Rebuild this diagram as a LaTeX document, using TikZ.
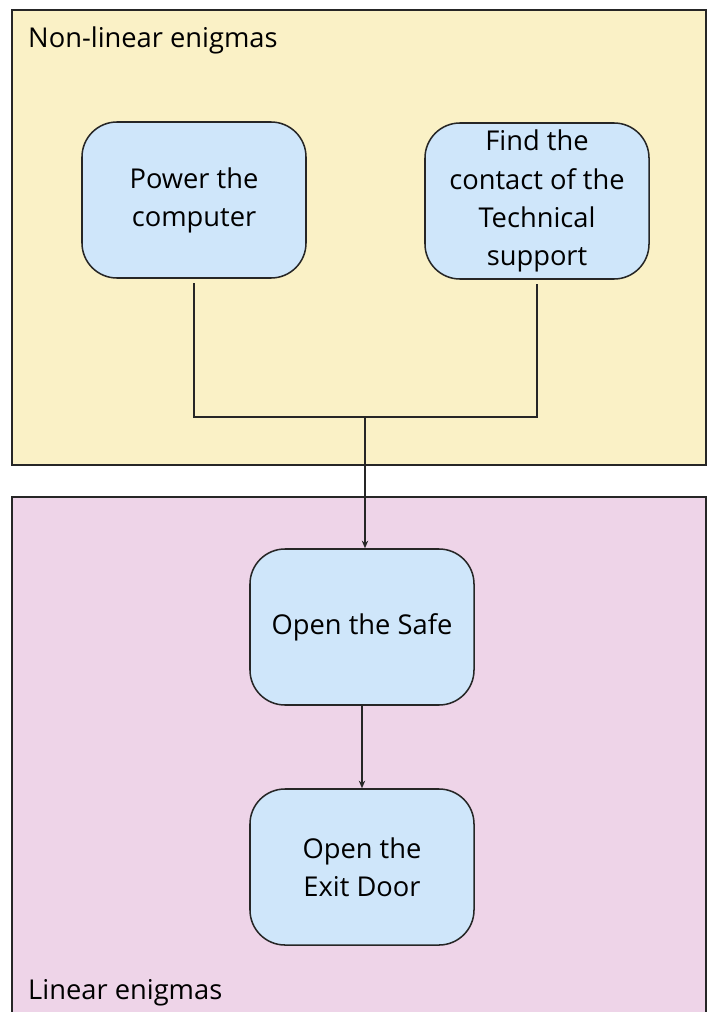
\documentclass[tikz,border=0pt]{standalone}
\usepackage{fontspec}
\setmainfont{Open Sans}
\usetikzlibrary{arrows.meta,positioning}
\definecolor{paleyellow}{HTML}{FAF1C6}
\definecolor{palepink}{HTML}{EED4E8}
\definecolor{paleblue}{HTML}{CFE6FA}
\begin{document}
\begin{tikzpicture}[x=0.03cm,y=-0.03cm,
  panel/.style={draw=black!85,line width=1.1pt},
  enigma/.style={draw=black!85,fill=paleblue,line width=1.3pt,rounded corners=1.05cm,
    minimum width=6.72cm,minimum height=4.68cm,align=center,
    font=\fontsize{23.3}{32.5}\selectfont},
  link/.style={draw=black!85,line width=1pt},
  tag/.style={anchor=base west,inner sep=0pt,font=\fontsize{23.3}{32.5}\selectfont}]
\useasboundingbox (0,0) rectangle (707,1012);
\clip (0,0) rectangle (707,1012);
% panels
\draw[panel,fill=paleyellow] (12,10) rectangle (706,465);
\draw[panel,fill=palepink] (12,497) rectangle (706,1030);
\node[tag] (nonlin) at (28,48) {Non-linear enigmas};
\node[tag] (lin) at (28,999) {Linear enigmas};
% enigmas
\node[enigma] (power) at (194,200) {Power the\\computer};
\node[enigma] (contact) at (537,201) {Find the\\contact of the\\Technical\\support};
\node[enigma] (safe) at (362,627) {Open the Safe};
\node[enigma] (exitdoor) at (362,867) {Open the\\Exit Door};
% connectors
\coordinate (merge) at (365,417);
\draw[link] ([yshift=-4pt]power.south) |- (merge) -| ([yshift=-4pt]contact.south);
\draw[link,-{Stealth[length=6.5pt,width=5.5pt]}] (merge) -- (merge |- safe.north);
\draw[link,-{Stealth[length=6.5pt,width=5.5pt]}] (safe) -- (exitdoor);
\end{tikzpicture}
\end{document}
